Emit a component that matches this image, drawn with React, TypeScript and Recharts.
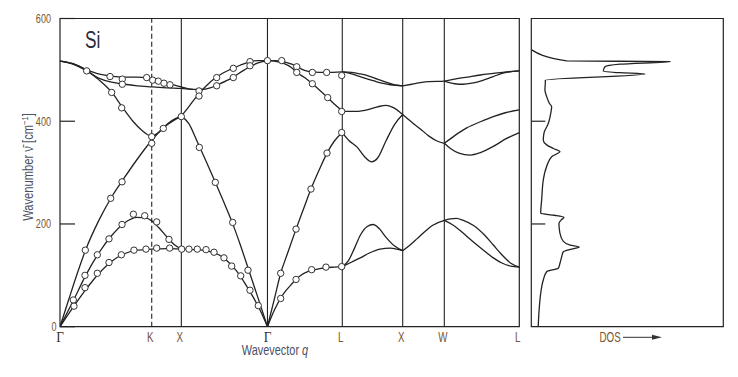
import React from "react";
import {
  ComposedChart,
  LineChart,
  Line,
  Scatter,
  XAxis,
  YAxis,
  ReferenceLine,
  ReferenceArea,
  Label,
} from "recharts";

const SANS = "'Liberation Sans', Arial, sans-serif";
const SERIF = "'Liberation Serif', 'DejaVu Serif', serif";
const TICK_COLOR = "#7a5634";
const LABEL_COLOR = "#4a5163";
const INK = "#222";

// symmetry points along the path (units of 2π/a)
const symPoints = [0, 1.069, 1.414, 2.418, 3.29, 3.994, 4.479, 5.353];
const symLabels = ["Γ", "K", "X", "Γ", "L", "X", "W", "L"];
const yTicks = [0, 200, 400, 600];

// phonon branches, [q, wavenumber]
const taLow = [[0, 0], [0.15, 37], [0.3, 72], [0.45, 103], [0.6, 127], [0.75, 142], [0.9, 149], [1.069, 151], [1.25, 152], [1.414, 151], [1.6, 150], [1.75, 146], [1.85, 140], [1.95, 128], [2.05, 110], [2.15, 86], [2.25, 58], [2.33, 33], [2.418, 0]];
const taMid = [[0, 0], [0.15, 49], [0.3, 100], [0.45, 143], [0.6, 177], [0.75, 202], [0.9, 213], [1.0, 212], [1.069, 206], [1.15, 193], [1.25, 174], [1.33, 160], [1.414, 151]];
const laLeft = [[0, 0], [0.1, 52], [0.2, 103], [0.3, 150], [0.45, 206], [0.6, 252], [0.75, 290], [0.9, 326], [1.069, 363], [1.2, 387], [1.3, 401], [1.414, 410]];
const laXG = [[1.414, 410], [1.5, 396], [1.6, 360], [1.7, 323], [1.8, 285], [1.9, 246], [2.0, 206], [2.1, 160], [2.2, 110], [2.3, 60], [2.418, 0]];
const loLeft = [[0, 517], [0.15, 512], [0.3, 500], [0.45, 481], [0.6, 457], [0.72, 429], [0.85, 400], [0.95, 383], [1.069, 371], [1.15, 378], [1.25, 393], [1.414, 410]];
const toUpper = [[0, 517], [0.15, 512], [0.3, 501], [0.45, 492], [0.6, 488], [0.75, 486], [0.9, 486], [1.0, 485], [1.069, 481], [1.15, 478], [1.25, 474], [1.414, 467], [1.55, 462], [1.65, 462], [1.75, 465], [1.85, 472], [2.0, 484], [2.15, 500], [2.3, 513], [2.418, 518]];
const toLower = [[0, 517], [0.15, 511], [0.3, 499], [0.45, 484], [0.6, 476], [0.75, 472], [0.9, 469], [1.069, 467], [1.25, 465], [1.414, 464], [1.55, 462]];
const loXG = [[1.414, 410], [1.5, 428], [1.6, 450], [1.7, 468], [1.8, 483], [1.9, 494], [2.0, 502], [2.1, 509], [2.2, 515], [2.3, 518], [2.418, 518]];

const taGL = [[2.418, 0], [2.5, 33], [2.6, 63], [2.7, 83], [2.8, 99], [2.9, 108], [3.0, 112], [3.1, 115], [3.2, 116], [3.29, 117]];
const taLXup = [[3.29, 117], [3.36, 128], [3.43, 152], [3.5, 178], [3.58, 195], [3.65, 199], [3.72, 191], [3.8, 174], [3.9, 157], [3.994, 148]];
const taLXlo = [[3.29, 117], [3.4, 126], [3.5, 134], [3.6, 143], [3.73, 151], [3.85, 153], [3.994, 148]];
const taXWL = [[3.994, 148], [4.08, 159], [4.16, 171], [4.25, 185], [4.35, 198], [4.479, 207], [4.55, 210], [4.62, 211], [4.7, 207], [4.82, 197], [4.95, 178], [5.05, 159], [5.15, 140], [5.25, 124], [5.353, 116]];
const taWLlo = [[4.479, 207], [4.57, 199], [4.66, 188], [4.76, 173], [4.86, 159], [4.95, 147], [5.05, 134], [5.15, 124], [5.25, 118], [5.353, 116]];
const laGL = [[2.418, 0], [2.5, 55], [2.572, 104], [2.65, 142], [2.751, 190], [2.84, 230], [2.925, 268], [3.02, 305], [3.112, 338], [3.2, 362], [3.29, 378]];
const loGL = [[2.418, 518], [2.5, 517], [2.6, 513], [2.7, 504], [2.76, 495], [2.85, 485], [2.94, 473], [3.03, 460], [3.12, 446], [3.2, 433], [3.29, 420]];
const toGL = [[2.418, 518], [2.5, 518], [2.6, 516], [2.7, 511], [2.76, 506], [2.85, 499], [2.94, 496], [3.1, 495], [3.29, 496]];
const laLX = [[3.29, 378], [3.37, 362], [3.46, 350], [3.55, 331], [3.633, 321], [3.7, 328], [3.8, 362], [3.9, 394], [3.994, 413]];
const loLX = [[3.29, 419], [3.45, 419], [3.6, 423], [3.7, 428], [3.8, 431], [3.88, 427], [3.994, 413]];
const loXW = [[3.994, 413], [4.1, 398], [4.2, 385], [4.3, 371], [4.4, 361], [4.479, 357]];
const loWL = [[4.479, 357], [4.6, 372], [4.74, 387], [4.9, 399], [5.05, 409], [5.2, 417], [5.353, 422]];
const laWL = [[4.479, 357], [4.55, 347], [4.65, 338], [4.78, 334], [4.9, 339], [5.05, 351], [5.2, 366], [5.353, 378]];
const toLXa = [[3.29, 496], [3.4, 495], [3.5, 492], [3.6, 488], [3.7, 482], [3.8, 476], [3.9, 471], [3.994, 469]];
const toLXb = [[3.29, 496], [3.38, 493], [3.46, 489], [3.55, 484], [3.65, 479], [3.75, 474], [3.85, 471], [3.994, 469]];
const toXWL = [[3.994, 469], [4.1, 472], [4.2, 475], [4.3, 477], [4.479, 478], [4.6, 482], [4.75, 486], [4.9, 490], [5.05, 493], [5.2, 496], [5.353, 498]];
const toWLlo = [[4.479, 478], [4.6, 473], [4.7, 472], [4.8, 474], [4.9, 478], [5.0, 484], [5.1, 490], [5.2, 495], [5.353, 498]];

// measured points (open circles)
const measured = [
  [0.155, 52], [0.163, 40], [0.291, 76], [0.291, 100], [0.295, 149], [0.311, 498], [0.435, 104], [0.435, 140],
  [0.571, 125], [0.571, 171], [0.583, 487], [0.591, 250], [0.602, 456], [0.715, 140], [0.719, 426], [0.723, 199],
  [0.723, 282], [0.726, 482], [0.726, 472], [0.855, 219], [0.862, 149], [0.987, 216], [1.002, 151], [1.01, 485],
  [1.069, 370], [1.069, 357], [1.08, 480], [1.127, 153], [1.127, 204], [1.146, 478], [1.204, 386], [1.212, 474],
  [1.27, 170], [1.278, 153], [1.282, 471], [1.414, 409], [1.418, 151], [1.503, 151], [1.6, 151], [1.62, 459],
  [1.62, 449], [1.624, 349], [1.702, 150], [1.795, 145], [1.81, 281], [1.826, 485], [1.826, 469], [1.911, 134],
  [2.001, 118], [2.013, 203], [2.02, 503], [2.02, 485], [2.106, 99], [2.191, 110], [2.214, 71], [2.214, 516],
  [2.214, 508], [2.311, 41], [2.418, 518],
  [2.572, 55], [2.572, 104], [2.584, 518], [2.751, 92], [2.751, 190], [2.759, 506], [2.759, 495], [2.925, 268],
  [2.933, 111], [2.941, 495], [2.941, 473], [3.1, 116], [3.108, 495], [3.112, 338], [3.12, 446], [3.283, 117],
  [3.283, 378], [3.283, 419], [3.283, 489],
];

// density of states: wavenumber and relative DOS
const dosWavenumber = [1, 39, 65, 91, 107, 114, 123, 136, 146, 151, 155, 159, 166, 182, 201, 208, 213, 217, 220.5, 223, 247, 286, 312, 331, 341, 347, 354, 363, 377, 396, 415, 428, 435, 448, 461, 475, 480, 492, 494.5, 498, 506, 511, 516, 517.5, 539];
const dosValue = [0.036, 0.042, 0.049, 0.0625, 0.08, 0.141, 0.149, 0.158, 0.167, 0.21, 0.25, 0.202, 0.167, 0.149, 0.144, 0.156, 0.17, 0.12, 0.05, 0.049, 0.054, 0.0625, 0.08, 0.106, 0.149, 0.115, 0.08, 0.0625, 0.066, 0.089, 0.101, 0.106, 0.094, 0.08, 0.071, 0.073, 0.073, 0.592, 0.462, 0.375, 0.384, 0.462, 0.722, 0.184, 0.002];

const pts = (a: number[][]) => a.map(([q, v]) => ({ q, v }));

const branches = [
  taLow, taMid, laLeft, laXG, loLeft, toUpper, toLower, loXG,
  taGL, taLXup, taLXlo, taXWL, taWLlo, laGL, loGL, toGL, laLX, loLX, loXW, loWL, laWL, toLXa, toLXb, toXWL, toWLlo,
].map(pts);

const dosData = dosWavenumber.map((v, i) => ({ v, d: dosValue[i] }));

// condensed text: the original uses a narrow face
const Cond = ({ x, y, sx = 0.72, size = 13, anchor = "start", fill = TICK_COLOR, family = SANS, rotate = 0, children }: any) => (
  <text transform={`translate(${x},${y}) rotate(${rotate}) scale(${sx},1)`} textAnchor={anchor}
    fontSize={size} fontFamily={family} fill={fill}>
    {children}
  </text>
);

const XTick = ({ x, y, index }: any) => {
  const lab = symLabels[index];
  if (lab === "Γ")
    return <Cond x={x} y={y + 10} sx={0.95} size={14} anchor="middle" family={SERIF} fill="#3a3028">{lab}</Cond>;
  return <Cond x={x - 1.5} y={y + 10} sx={0.7} size={14} anchor="middle">{lab}</Cond>;
};

const YTick = ({ x, y, payload }: any) => (
  <g>
    <line x1={x} x2={x + 15} y1={y} y2={y} stroke={INK} strokeWidth={1.2} />
    <Cond x={payload.value === 0 ? x - 3.5 : x - 9} y={y + 4.5} sx={0.7} size={13} anchor="end">
      {payload.value}
    </Cond>
  </g>
);

const DosTick = ({ x, y }: any) => (
  <line x1={x} x2={x + 14} y1={y} y2={y} stroke={INK} strokeWidth={1.2} />
);

const Dot = ({ cx, cy }: any) => (
  <circle cx={cx} cy={cy} r={3.2} fill="#fff" stroke="#333" strokeWidth={1} />
);

export default function App() {
  return (
    <div style={{ position: "absolute", left: 0, top: 0, width: 738, height: 377, background: "#fff" }}>
      <div style={{ position: "absolute", left: 0, top: 0 }}>
        <ComposedChart width={530} height={377} margin={{ top: 18.5, right: 10.7, bottom: 10.3, left: 0 }}>
          <XAxis type="number" dataKey="q" domain={[0, 5.353]} ticks={symPoints} interval={0}
            tick={<XTick />} tickLine={false} axisLine={false} tickSize={0} tickMargin={5} height={40} allowDataOverflow>
            <Label content={() => (
              <Cond x={275} y={355} sx={0.78} size={14} anchor="middle" fill={LABEL_COLOR}>
                Wavevector <tspan fontStyle="italic">q</tspan>
              </Cond>
            )} />
          </XAxis>
          <YAxis type="number" dataKey="v" domain={[0, 600]} ticks={yTicks} tick={<YTick />}
            tickLine={false} axisLine={false} tickSize={0} tickMargin={0} width={60} allowDataOverflow>
            <Label content={() => (
              <g>
                <Cond x={33} y={167} rotate={-90} sx={0.8} size={14} anchor="middle" fill={LABEL_COLOR}>
                  Wavenumber ν̄ [cm<tspan dy={-5} fontSize={9.5}>−1</tspan><tspan dy={5}>]</tspan>
                </Cond>
                <Cond x={85} y={48} sx={0.75} size={23} fill="#2b2b3b">Si</Cond>
              </g>
            )} />
          </YAxis>
          <ReferenceArea x1={0} x2={5.353} y1={0} y2={600} fill="none" fillOpacity={0} stroke={INK} strokeWidth={1.2} />
          {symPoints.slice(1, -1).map((q, i) => (
            <ReferenceLine key={i} x={q} stroke={INK} strokeWidth={1.1} strokeDasharray={i === 0 ? "5 3" : undefined} />
          ))}
          {branches.map((b, i) => (
            <Line key={i} data={b} dataKey="v" type="monotone" stroke={INK} strokeWidth={1.3}
              dot={false} activeDot={false} isAnimationActive={false} />
          ))}
          <Scatter data={pts(measured)} dataKey="v" shape={<Dot />} isAnimationActive={false} />
        </ComposedChart>
      </div>
      <div style={{ position: "absolute", left: 520, top: 0 }}>
        <LineChart layout="vertical" width={218} height={377} data={dosData}
          margin={{ top: 18.5, right: 14.7, bottom: 10.3, left: 10.3 }}>
          <XAxis type="number" dataKey="d" domain={[0, 1]} tick={false} axisLine={false} tickLine={false} height={40}>
            <Label content={() => (
              <g>
                <Cond x={79.5} y={341.5} sx={0.7} size={14}>DOS</Cond>
                <line x1={103} x2={134} y1={337.3} y2={337.3} stroke="#333" strokeWidth={1} />
                <polygon points="132,334.8 142,337.3 132,339.8" fill="#333" />
              </g>
            )} />
          </XAxis>
          <YAxis type="number" dataKey="v" domain={[0, 600]} ticks={[200, 400]} reversed width={1}
            tick={<DosTick />} tickLine={false} axisLine={false} tickSize={0} tickMargin={0} allowDataOverflow />
          <ReferenceArea x1={0} x2={1} y1={0} y2={600} fill="none" fillOpacity={0} stroke={INK} strokeWidth={1.2} />
          <Line dataKey="d" type="monotone" stroke={INK} strokeWidth={1.3} dot={false} activeDot={false} isAnimationActive={false} />
        </LineChart>
      </div>
    </div>
  );
}
